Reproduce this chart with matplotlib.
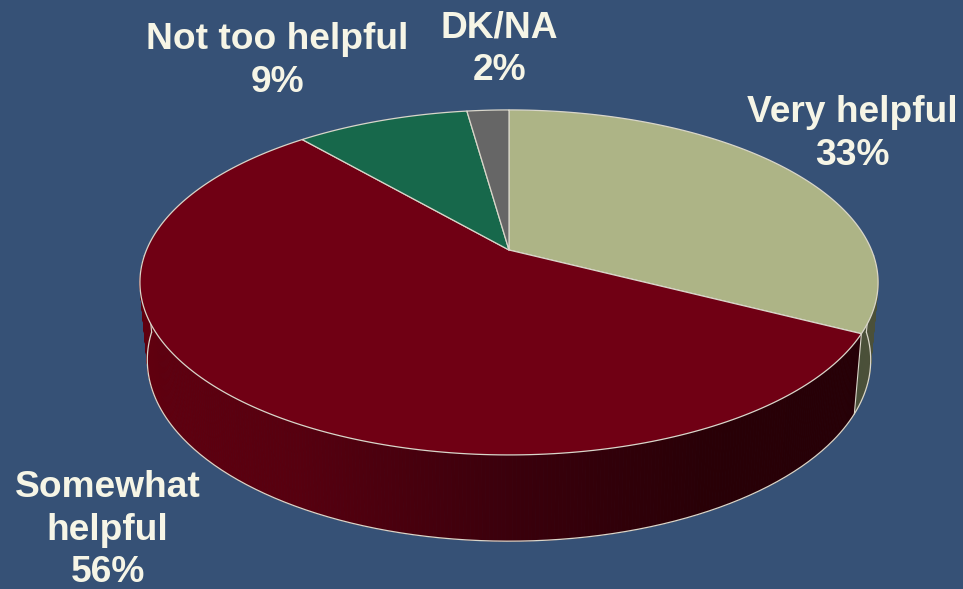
import numpy as np
import matplotlib
matplotlib.use('Agg')
import matplotlib.pyplot as plt
from matplotlib.patches import Polygon
from matplotlib.collections import PolyCollection

# данные диаграммы
categories = ['Very helpful', 'Somewhat\nhelpful', 'Not too helpful', 'DK/NA']
shares = [32.6, 56.1, 9.1, 2.2]  # оценка по углам секторов
percent_labels = ['33%', '56%', '9%', '2%']
colors = ['#adb486', '#700014', '#17684b', '#666666']
BG = '#365176'
EDGE = '#d9d6ca'
TEXT = '#f6f5e6'

# центр и перспектива верхней плоскости
CX, CY = 509, 250
K = 0.188
A = 166.4
B = 362.5


def top_rim(deg):
    """Точка на ободе, угол по часовой стрелке от верха."""
    t = np.radians(deg)
    u, v = np.sin(t), np.cos(t)
    d = 1 + K * v
    return CX + B * u / d, CY - A * v / d


def low_rim(deg):
    x, y = top_rim(deg)
    return CX + (x - CX) * 0.98, CY + 76 + (y - CY) * 1.05


def side_color(x):
    # затемнение боковины слева направо
    xs = [140, 300, 510, 700, 860]
    rs = [0.38, 0.34, 0.23, 0.16, 0.15]
    bs = [0.06, 0.06, 0.045, 0.025, 0.025]
    return np.interp(x, xs, rs), 0.0, np.interp(x, xs, bs)


fig = plt.figure(figsize=(9.63, 5.89), dpi=100, facecolor=BG)
ax = fig.add_axes([0, 0, 1, 1])
ax.set_xlim(0, 963)
ax.set_ylim(589, 0)
ax.axis('off')

bounds = np.concatenate([[0], np.cumsum(shares) * 3.6])

# боковина
side_start = 92
side_end = 268
split = bounds[1]
angles = np.arange(side_start, side_end + 0.5, 0.5)
quads = []
quad_colors = []
for a0, a1 in zip(angles[:-1], angles[1:]):
    p0, p1 = top_rim(a0), top_rim(a1)
    q0, q1 = low_rim(a0), low_rim(a1)
    quads.append([p0, p1, q1, q0])
    if a0 < split:
        quad_colors.append('#4b5039')
    else:
        quad_colors.append(side_color((q0[0] + q1[0]) / 2))
ax.add_collection(PolyCollection(quads, facecolors=quad_colors, edgecolors=quad_colors,
                                 linewidths=0.5, zorder=1))

# контур боковины
low_angles = np.linspace(side_start, side_end, 300)
low_pts = np.array([low_rim(a) for a in low_angles])
ax.plot(low_pts[:, 0], low_pts[:, 1], color=EDGE, lw=0.9, zorder=2)
for a in [side_start, split, side_end]:
    p, q = top_rim(a), low_rim(a)
    ax.plot([p[0], q[0]], [p[1], q[1]], color=EDGE, lw=0.8, zorder=2)

# верхняя плоскость
for i, val in enumerate(shares):
    arc = np.linspace(bounds[i], bounds[i + 1], 200)
    pts = [(CX, CY)] + [top_rim(a) for a in arc]
    ax.add_patch(Polygon(pts, closed=True, facecolor=colors[i], edgecolor=EDGE,
                         linewidth=0.9, joinstyle='round', zorder=3))

# подписи
label_pos = [(852.5, 134), (107.5, 530), (277.5, 61), (499.5, 49)]
for name, pct, (x, y) in zip(categories, percent_labels, label_pos):
    ax.text(x, y, f'{name}\n{pct}', ha='center', va='center', color=TEXT,
            fontsize=26.7, fontweight='bold', family='Liberation Sans',
            linespacing=1.28, zorder=5)

fig.savefig('out.png', dpi=100, facecolor=BG)
